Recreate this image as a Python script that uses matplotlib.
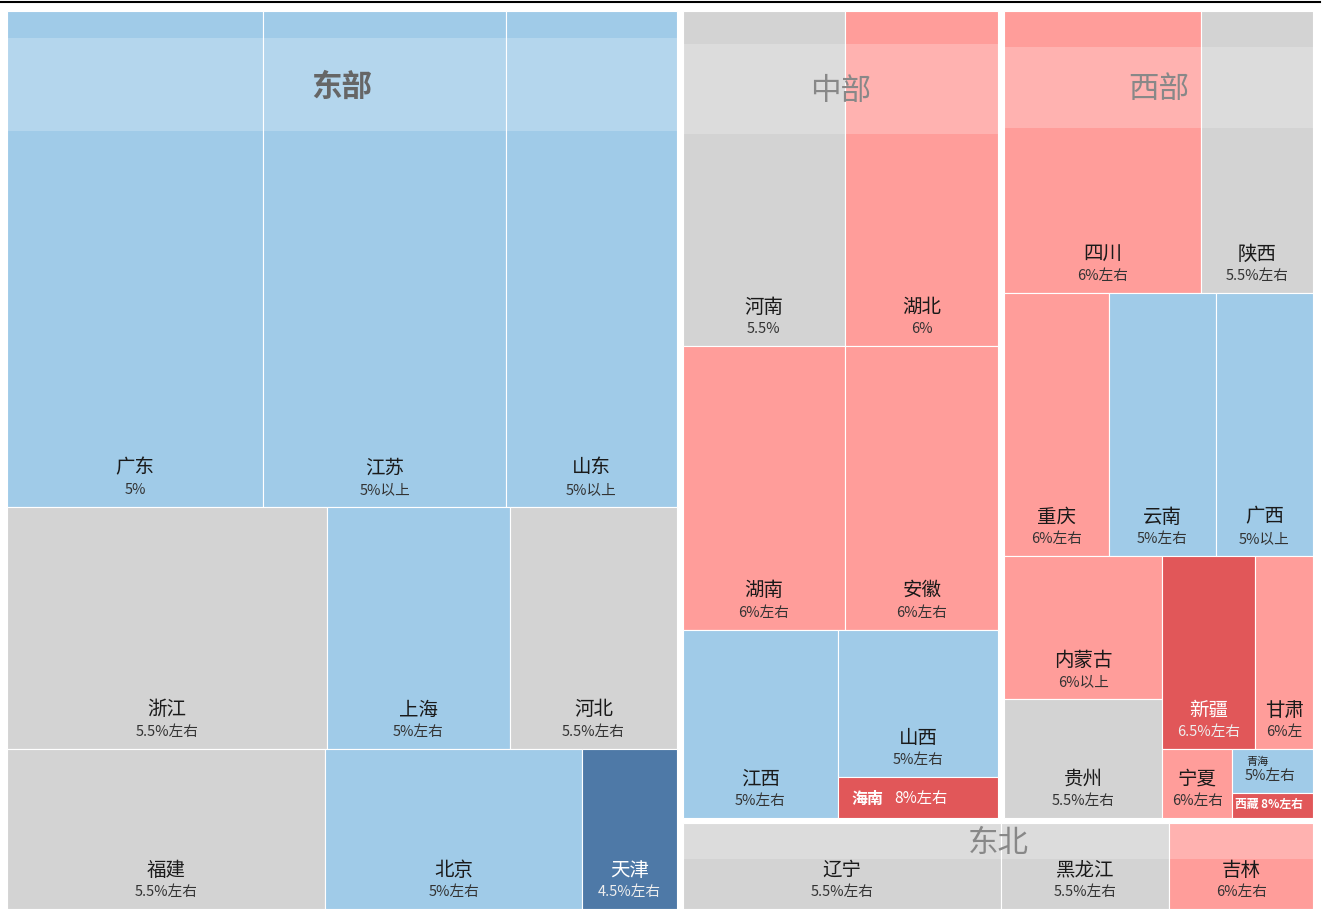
import matplotlib
matplotlib.use('Agg')
import matplotlib.pyplot as plt
from matplotlib.patches import Rectangle
from matplotlib.lines import Line2D

plt.rcParams['font.family'] = ['Noto Sans CJK SC', 'DejaVu Sans']

# 省份 / 2023年GDP(亿元，决定面积) / 2024年增长目标 / 区域
provinces = ['广东', '江苏', '山东', '浙江', '上海', '河北', '福建', '北京', '天津',
             '河南', '湖北', '湖南', '安徽', '江西', '山西', '海南',
             '四川', '陕西', '重庆', '云南', '广西', '内蒙古', '贵州', '新疆',
             '甘肃', '宁夏', '青海', '西藏',
             '辽宁', '黑龙江', '吉林']
gdp = [135673, 128222, 92069, 82553, 47219, 43944, 54355, 43761, 16737,
       59132, 55804, 50013, 47051, 32200, 25698, 7551,
       60133, 33786, 30146, 30021, 27202, 24627, 20913, 19126,
       11864, 5315, 3799, 2393,
       30209, 15884, 13531]
targets = ['5%', '5%以上', '5%以上', '5.5%左右', '5%左右', '5.5%左右', '5.5%左右', '5%左右', '4.5%左右',
           '5.5%', '6%', '6%左右', '6%左右', '5%左右', '5%左右', '8%左右',
           '6%左右', '5.5%左右', '6%左右', '5%左右', '5%以上', '6%以上', '5.5%左右', '6.5%左右',
           '6%左', '6%左右', '5%左右', '8%左右',
           '5.5%左右', '5.5%左右', '6%左右']
regions = ['东部'] * 9 + ['中部'] * 7 + ['西部'] * 12 + ['东北'] * 3
region_names = ['东部', '中部', '西部', '东北']

# 切分结构: ('h', ...) 横向排列, ('v', ...) 纵向排列
layout = ('h', [
    ('v', [('h', ['广东', '江苏', '山东']),
           ('h', ['浙江', '上海', '河北']),
           ('h', ['福建', '北京', '天津'])]),
    ('v', [
        ('h', [
            ('v', [('h', ['河南', '湖北']),
                   ('h', ['湖南', '安徽']),
                   ('h', ['江西', ('v', ['山西', '海南'])])]),
            ('v', [('h', ['四川', '陕西']),
                   ('h', ['重庆', '云南', '广西']),
                   ('h', [('v', ['内蒙古', '贵州']),
                          ('v', [('h', ['新疆', '甘肃']),
                                 ('h', ['宁夏', ('v', ['青海', '西藏'])])])])]),
        ]),
        ('h', ['辽宁', '黑龙江', '吉林']),
    ]),
])

idx = {p: i for i, p in enumerate(provinces)}


def weight(node):
    if isinstance(node, str):
        return gdp[idx[node]]
    return sum(weight(c) for c in node[1])


def split(node, x, y, w, h, out):
    if isinstance(node, str):
        out[node] = (x, y, w, h)
        return
    d, kids = node
    tot = weight(node)
    for k in kids:
        f = weight(k) / tot
        if d == 'h':
            split(k, x, y, w * f, h, out)
            x += w * f
        else:
            split(k, x, y, w, h * f, out)
            y += h * f


def color_of(t):
    v = float(t.split('%')[0])
    if v < 5:
        return '#4e79a7'
    if v < 5.5:
        return '#a0cbe8'
    if v < 6:
        return '#d3d3d3'
    if v < 6.5:
        return '#ff9d9a'
    return '#e15759'


W, H = 1306, 898
GAP = 5.5
fig = plt.figure(figsize=(13.27, 9.11), dpi=100)
ax = fig.add_axes([7 / 1327, 2 / 911, W / 1327, H / 911])
ax.set_xlim(0, W)
ax.set_ylim(H, 0)
ax.axis('off')

rects = {}
split(layout, 0, 0, W, H, rects)

# 区域外框（区域之间留白）
groups = {}
for g in region_names:
    mem = [rects[p] for p, r in zip(provinces, regions) if r == g]
    x0 = min(m[0] for m in mem)
    y0 = min(m[1] for m in mem)
    x1 = max(m[0] + m[2] for m in mem)
    y1 = max(m[1] + m[3] for m in mem)
    if x0 > 0.5: x0 += GAP / 2
    if y0 > 0.5: y0 += GAP / 2
    if x1 < W - 0.5: x1 -= GAP / 2
    if y1 < H - 0.5: y1 -= GAP / 2
    groups[g] = (x0, y0, x1, y1)

for p, t, g in zip(provinces, targets, regions):
    x, y, w, h = rects[p]
    gx0, gy0, gx1, gy1 = groups[g]
    x0, y0 = max(x, gx0), max(y, gy0)
    x1, y1 = min(x + w, gx1), min(y + h, gy1)
    fc = color_of(t)
    ax.add_patch(Rectangle((x0, y0), x1 - x0, y1 - y0, facecolor=fc,
                           edgecolor='white', lw=0.8, zorder=1))
    dark = fc in ('#4e79a7', '#e15759')
    cx = (x0 + x1) / 2
    if p == '海南':
        ax.text(x0 + 13, y1 - 19, p, color='white', fontsize=11.5, fontweight='bold',
                ha='left', va='center', zorder=5)
        ax.text(x0 + 56, y1 - 19, t, color='white', fontsize=11, ha='left',
                va='center', zorder=5)
    elif p == '西藏':
        ax.text(x0 + 3, y1 - 13, p + ' ' + t, color='white', fontsize=8.5,
                fontweight='bold', ha='left', va='center', zorder=5)
    elif p == '青海':
        ax.text(cx - 15, y1 - 31, p, color='#222222', fontsize=8, ha='center',
                va='center', zorder=5)
        ax.text(cx - 2, y1 - 17, t, color='#333333', fontsize=10.5, ha='center',
                va='center', zorder=5)
    else:
        ax.text(cx, y1 - 39, p, color='white' if dark else '#1a1a1a', fontsize=14,
                ha='center', va='center', zorder=5)
        ax.text(cx, y1 - 17, t, color='#eeeeee' if dark else '#333333', fontsize=10.5,
                ha='center', va='center', zorder=5)

# 区域标题条
band = {'东部': (27, 93), '中部': (33, 90), '西部': (36, 81), '东北': (0, 36)}
title_color = {'东部': '#666666', '中部': '#888888', '西部': '#888888', '东北': '#888888'}
for g in region_names:
    gx0, gy0, gx1, gy1 = groups[g]
    off, bh = band[g]
    ax.add_patch(Rectangle((gx0, gy0 + off), gx1 - gx0, bh, facecolor='white',
                           alpha=0.22, lw=0, zorder=3))
    ax.text((gx0 + gx1) / 2, gy0 + off + bh / 2 + 2, g, color=title_color[g], fontsize=22,
            fontweight='bold' if g == '东部' else 'normal',
            ha='center', va='center', zorder=6)

fig.add_artist(Line2D([0, 1320 / 1327], [1 - 2 / 911, 1 - 2 / 911], color='black', lw=1.5))

fig.savefig('out.png', dpi=100)
